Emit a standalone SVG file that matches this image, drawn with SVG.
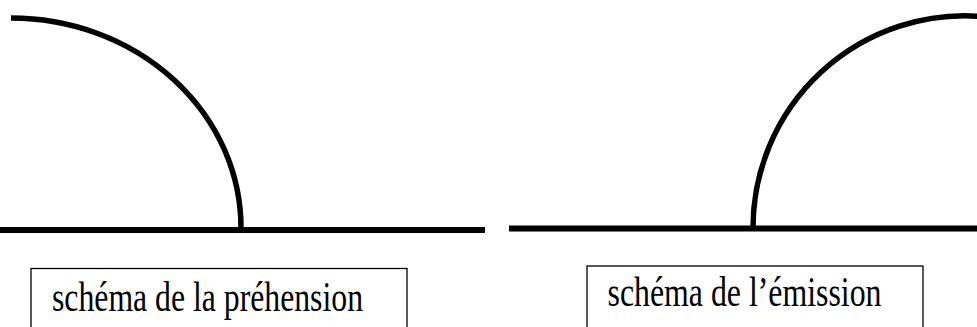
<svg xmlns="http://www.w3.org/2000/svg" width="977" height="327" viewBox="0 0 977 327">
  <style>
    .thick { fill: none; stroke: #000; stroke-width: 6; }
    .arc { fill: none; stroke: #000; stroke-width: 5.5; }
    .box { fill: #fff; stroke: #000; stroke-width: 1.3; }
    .lbl { font-family: "Liberation Serif", "Times New Roman", serif; font-size: 32px; fill: #000; }
  </style>
  <rect width="977" height="327" fill="#fff"/>
  <g id="prehension-schema">
    <path class="arc" d="M 11 18 A 230 210 0 0 1 241 228"/>
    <line class="thick" x1="0" y1="230" x2="485" y2="230"/>
  </g>
  <g id="emission-schema">
    <path class="arc" d="M 753 228 A 212 212 0 0 1 982 16.5"/>
    <line class="thick" x1="509" y1="228.5" x2="977" y2="228.5"/>
  </g>
  <g id="label-prehension">
    <rect class="box" x="31" y="268.5" width="376" height="70"/>
    <text class="lbl" transform="translate(52,310.5) scale(1,1.3)" textLength="311" lengthAdjust="spacingAndGlyphs">schéma de la préhension</text>
  </g>
  <g id="label-emission">
    <rect class="box" x="587" y="266" width="336" height="70"/>
    <text class="lbl" transform="translate(607.5,306) scale(1,1.3)" textLength="274" lengthAdjust="spacingAndGlyphs">schéma de l’émission</text>
  </g>
</svg>
